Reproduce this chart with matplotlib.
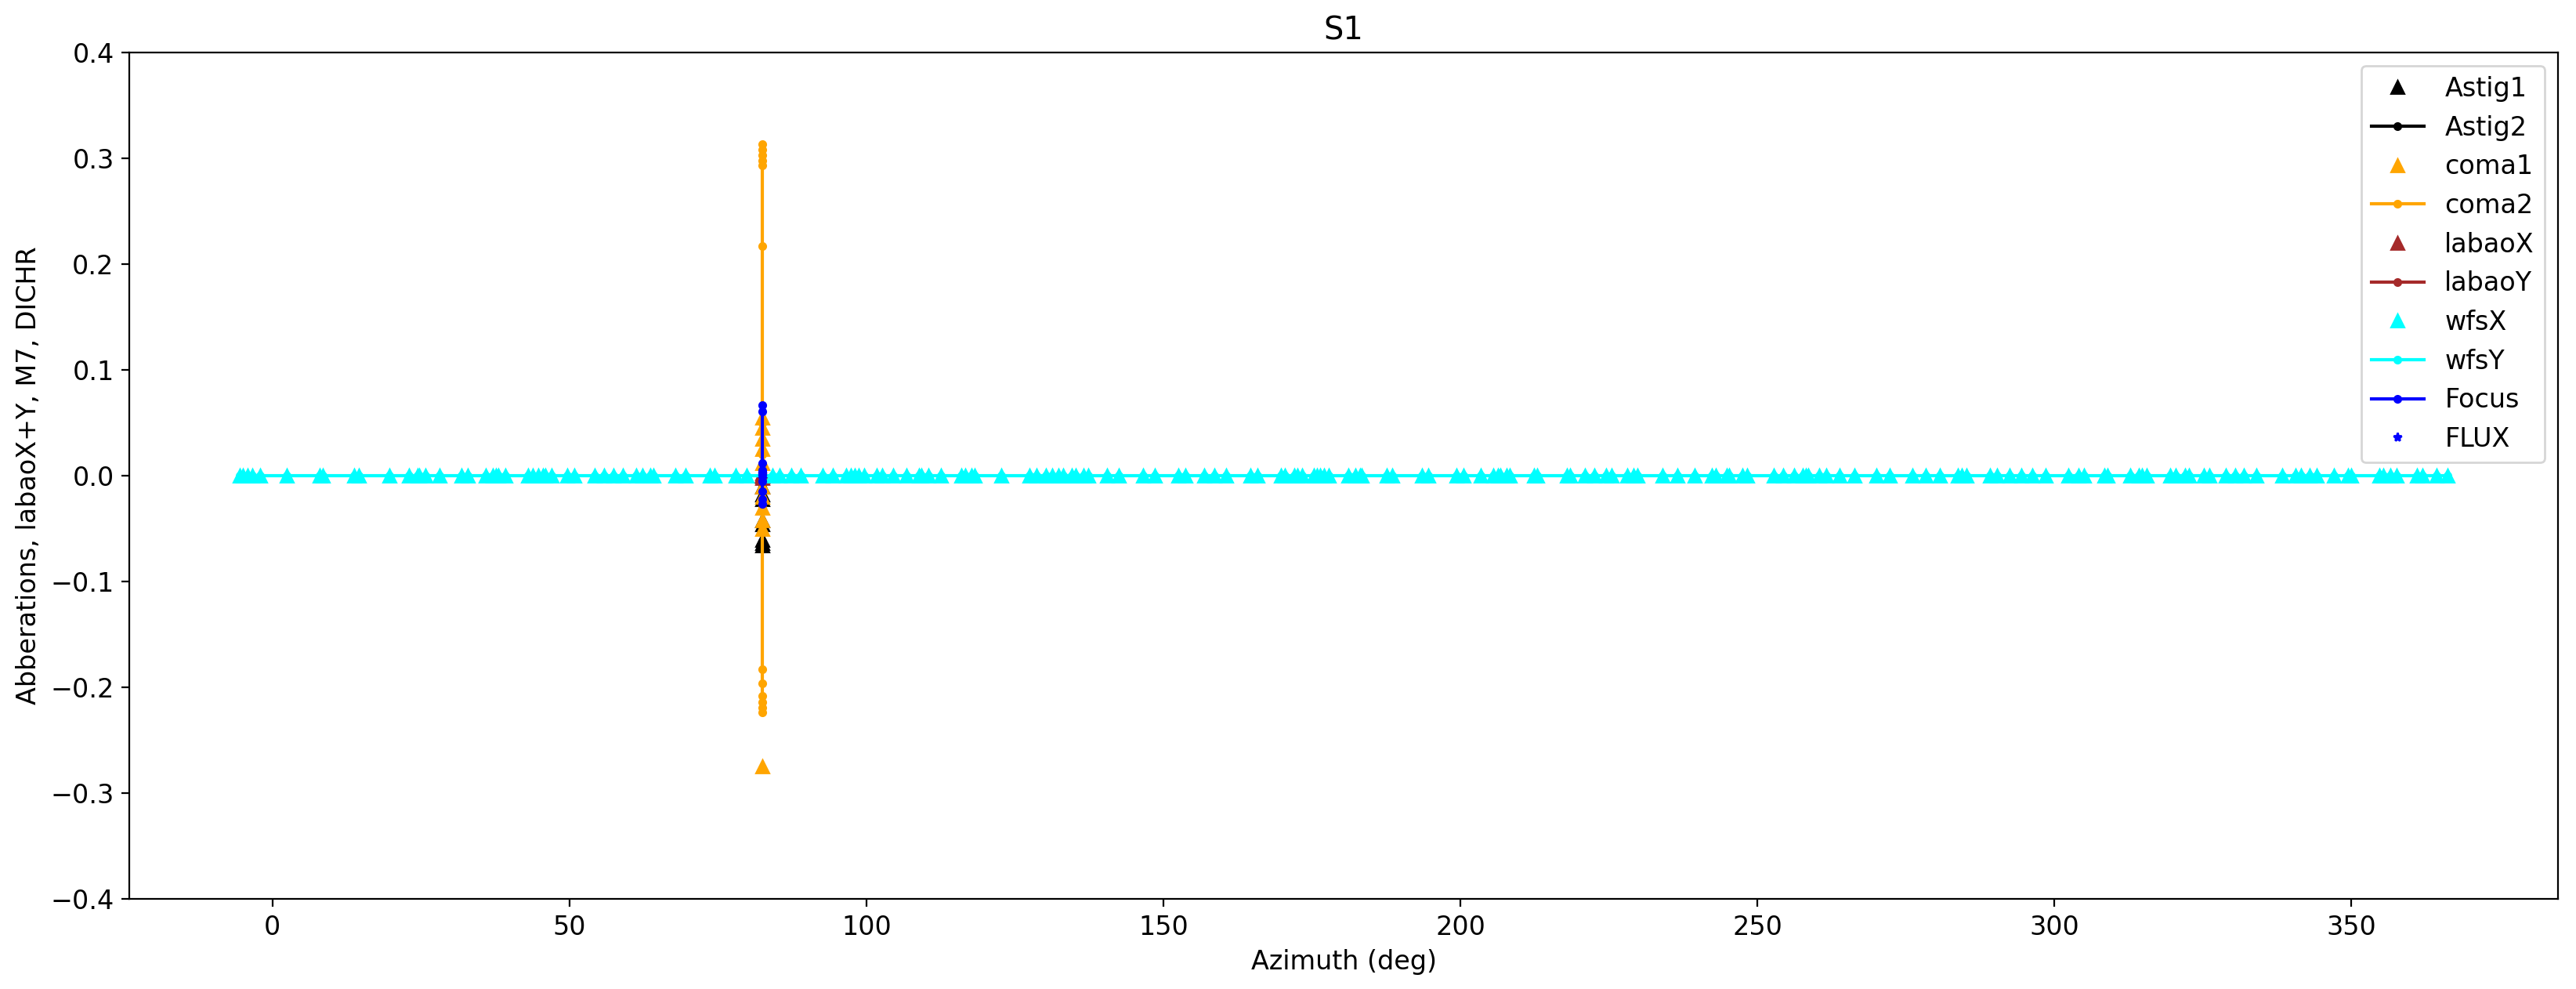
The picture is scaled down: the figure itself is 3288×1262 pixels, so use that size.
#!/usr/bin/env python3
"""Aberrations vs azimuth, S1."""
import matplotlib
matplotlib.use("Agg")
import matplotlib.pyplot as plt

plt.rcParams["font.size"] = 12

# azimuth of the aberration samples (all taken at one position)
az_ab = 82.5

astig1 = [-0.066, -0.064, -0.061, -0.046, -0.042, -0.022, -0.018, -0.01, 0.0]
astig2 = [-0.02, -0.045, -0.062, -0.065, -0.03, -0.01, 0.0, 0.005, 0.01]
coma1 = [-0.275, -0.05, -0.042, -0.03, -0.02, -0.01, 0.0, 0.012, 0.025,
         0.035, 0.045, 0.055]
coma2 = [0.313, 0.308, 0.303, 0.298, 0.293, 0.217, 0.05, 0.02, 0.0, -0.03,
         -0.183, -0.196, -0.208, -0.214, -0.219, -0.224]
labaoX = [0.0, 0.002, -0.002, 0.001, -0.001]
labaoY = [0.0, -0.002, 0.002, 0.001, -0.001]
focus = [0.067, 0.061, 0.012, 0.005, -0.005, -0.015, -0.022, -0.027]
flux = [0.0, 0.002, -0.002]

# wfs samples span the whole azimuth range
az_wfs = [
    -5.5, -4.92, -4.13, -3.34, -2.02, 2.37, 7.96, 8.54, 13.8, 14.6, 19.7,
    23.0, 24.4, 24.7, 25.8, 28.1, 31.8, 32.9, 35.9, 37.1, 37.6, 38.0, 39.2,
    43.1, 43.8, 44.8, 45.6, 45.9, 47.0, 49.7, 50.8,
    54.3, 55.8, 57.4, 59.0, 61.3, 62.3, 63.6, 64.2, 67.8, 69.5, 73.7, 74.4,
    78.0, 79.8, 84.2, 85.4, 87.4, 89.0, 92.6, 94.3, 96.6, 97.4, 98.1, 98.7,
    99.6, 101.8, 102.7, 104.5, 106.7, 108.9, 109.3, 110.4, 112.6,
    116.0, 116.7, 117.7, 118.2, 122.7, 127.5, 128.6, 130.2, 131.3, 132.4,
    133.1, 134.6, 135.3, 136.6, 137.4, 140.5, 142.5, 146.6, 148.6, 152.5,
    153.7, 156.9, 158.6, 160.5, 164.6, 165.8, 169.8, 170.5, 172.0, 172.5,
    173.3,
    175.3, 175.9, 176.4, 177.0, 177.8, 181.1, 182.3, 183.1, 183.4, 187.6,
    188.5, 193.5, 194.6, 199.3, 200.5, 203.4, 205.6, 206.3, 206.7, 207.8,
    208.3, 212.4, 212.9, 217.9, 218.4, 221.0, 222.6, 224.5, 225.5, 228.1,
    229.2, 229.8, 234.0,
    236.5, 239.5, 242.3, 243.0, 244.8, 245.3, 247.5, 248.3, 252.8, 254.3,
    256.2, 257.7, 258.2, 258.6, 260.4, 261.6, 263.9, 266.4, 270.0, 272.3,
    276.1, 278.3, 280.7, 283.8, 284.4, 285.2, 289.1, 290.3, 292.5, 294.5,
    296.3, 298.5, 302.3, 304.1, 305.0, 308.4, 309.0, 312.8, 314.2, 314.7,
    315.5, 319.5, 320.4, 322.0, 322.6, 325.2, 326.1, 328.8, 330.5, 331.9,
    334.0, 338.4, 340.6, 341.5, 343.0, 344.2, 347.1, 349.4, 350.0, 354.7,
    355.4, 356.6, 357.6, 361.0, 362.0, 364.3, 366.2,
]
wfsX = [0.0] * len(az_wfs)
wfsY = [0.0] * len(az_wfs)


def at(x, vals):
    return [x] * len(vals)


fig, ax = plt.subplots(figsize=(16.44, 6.31), dpi=200)
fig.subplots_adjust(left=0.0502, right=0.993, top=0.947, bottom=0.091)

ax.plot(at(az_ab, astig1), astig1, "^", color="black", label="Astig1")
ax.plot(at(az_ab, astig2), astig2, ".-", color="black", label="Astig2")
ax.plot(at(az_ab, coma1), coma1, "^", color="orange", label="coma1")
ax.plot(at(az_ab, coma2), coma2, ".-", color="orange", label="coma2")
ax.plot(at(az_ab, labaoX), labaoX, "^", color="brown", label="labaoX")
ax.plot(at(az_ab, labaoY), labaoY, ".-", color="brown", label="labaoY")
ax.plot(az_wfs, wfsX, "^", color="cyan", label="wfsX")
ax.plot(az_wfs, wfsY, ".-", color="cyan", label="wfsY")
ax.plot(at(az_ab, focus), focus, ".-", color="blue", label="Focus")
ax.plot(at(az_ab, flux), flux, "*", color="blue", markersize=4, label="FLUX")

ax.set_ylim(-0.4, 0.4)
ax.set_title("S1")
ax.set_xlabel("Azimuth (deg)")
ax.set_ylabel("Abberations, labaoX+Y, M7, DICHR")
ax.legend(loc="upper right")

fig.savefig("out.png", dpi=200)
